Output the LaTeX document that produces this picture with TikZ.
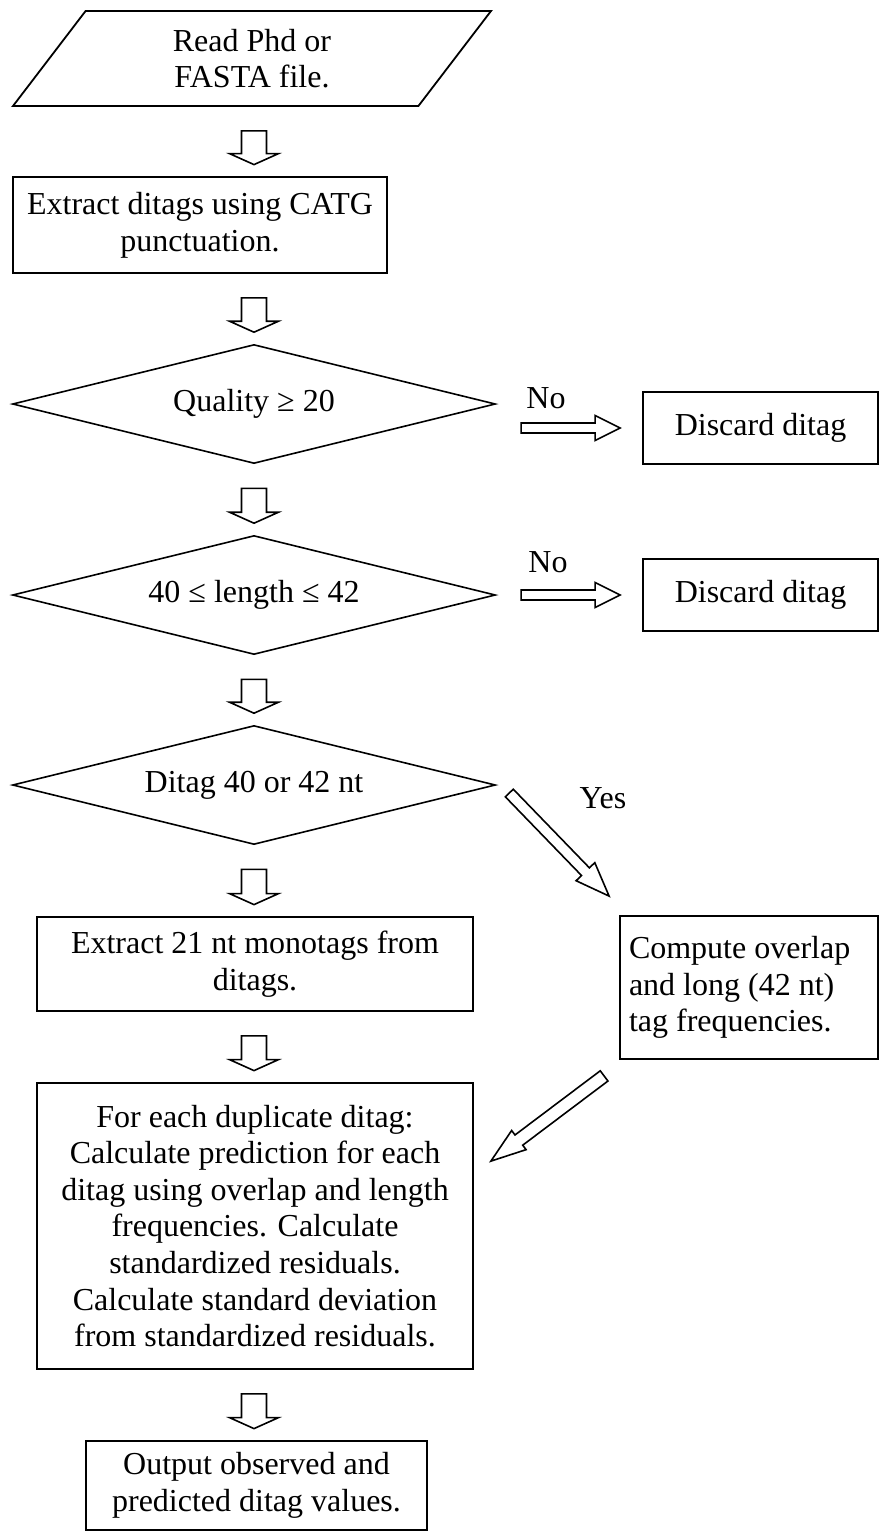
\documentclass[tikz,border=0pt]{standalone}
\usepackage{fontspec}
\setmainfont{Liberation Serif}
\usepackage{tikz}
\usetikzlibrary{shapes,calc}

% hollow block arrow: shaft half width, wing half width, head length, from, to
\newcommand{\fatarrow}[5]{%
  \path (#4) coordinate (fa-s) (#5) coordinate (fa-e);
  \path ($(fa-e)!#3!(fa-s)$) coordinate (fa-h);
  \draw[line width=0.8pt,line join=miter]
    ($(fa-s)!#1!90:(fa-e)$) -- ($(fa-h)!#1!-90:(fa-s)$)
    -- ($(fa-h)!#2!-90:(fa-s)$) -- (fa-e) -- ($(fa-h)!#2!90:(fa-s)$)
    -- ($(fa-h)!#1!90:(fa-s)$) -- ($(fa-s)!#1!-90:(fa-e)$) -- cycle;
}
\newcommand{\downblock}[2]{%
  \fatarrow{6.25pt}{12.25pt}{5.5pt}{$(#1.south -| q)+(0,24)$}{$(#2.north -| q)+(0,-11.5)$}}
\newcommand{\sideblock}[2]{%
  \fatarrow{2.5pt}{6.25pt}{12.5pt}{$(#1.west)+(-121,0)$}{$(#1.west)+(-22,0)$}}

\begin{document}
\begin{tikzpicture}[x=0.5pt,y=-0.5pt,
  every node/.style={font=\fontsize{16}{18.3}\selectfont},
  box/.style={rectangle,draw,line width=0.9pt,inner sep=2pt,align=center},
  decision/.style={diamond,draw,line width=0.8pt,inner sep=0pt,shape aspect=4.06,
    minimum width=241.5pt,minimum height=59.5pt},
  io/.style={trapezium,draw,line width=0.9pt,trapezium left angle=45,
    trapezium right angle=135,trapezium stretches body,
    minimum width=239pt,minimum height=47.5pt,align=center}]
  \useasboundingbox (0,0) rectangle (880,1532);

  \node[io] (read) at (252,58.5) {Read Phd or\\FASTA file.};
  \node[box,minimum width=187pt,minimum height=48pt] (extract) at (200,225)
    {Extract ditags using CATG\\punctuation.};
  \node[decision] (q) at (254,404) {Quality ≥ 20};
  \node[decision] (lq) at (254,595) {40 ≤ length ≤ 42};
  \node[decision] (dt) at (254,785) {Ditag 40 or 42 nt};
  \node[box,minimum width=117.5pt,minimum height=36pt] (d1) at (760.5,428) {Discard ditag};
  \node[box,minimum width=117.5pt,minimum height=36pt] (d2) at (760.5,595) {Discard ditag};
  \node[box,minimum width=218pt,minimum height=47pt] (ex21) at (255,964)
    {Extract 21 nt monotags from\\ditags.};
  \node[box,align=flush left,text width=120pt,inner sep=4.5pt,minimum height=71.5pt] (comp)
    at (749,987.5) {Compute overlap\\and long (42 nt)\\tag frequencies.};
  \node[box,minimum width=218pt,minimum height=143pt] (big) at (255,1226)
    {For each duplicate ditag:\\Calculate prediction for each\\ditag using overlap and length\\
     frequencies. Calculate\\standardized residuals.\\Calculate standard deviation\\
     from standardized residuals.};
  \node[box,minimum width=170.5pt,minimum height=44.5pt] (final) at (256.5,1485.5)
    {Output observed and\\predicted ditag values.};

  \node (no1) at (546,398) {No};
  \node (no2) at (548,562) {No};
  \node (yes) at (603,798) {Yes};

  \foreach \a/\b in {read/extract,extract/q,q/lq,lq/dt,dt/ex21,ex21/big,big/final}
    {\downblock{\a}{\b}}
  \sideblock{d1}{q}
  \sideblock{d2}{lq}
  \fatarrow{2.75pt}{6.5pt}{17pt}{$(dt.east)+(13,8)$}{$(comp.north west)+(-10,-19)$}
  \fatarrow{3.2pt}{6pt}{17.5pt}{$(comp.south west)+(-15,16)$}{$(big.north east)+(17,79)$}
\end{tikzpicture}
\end{document}
